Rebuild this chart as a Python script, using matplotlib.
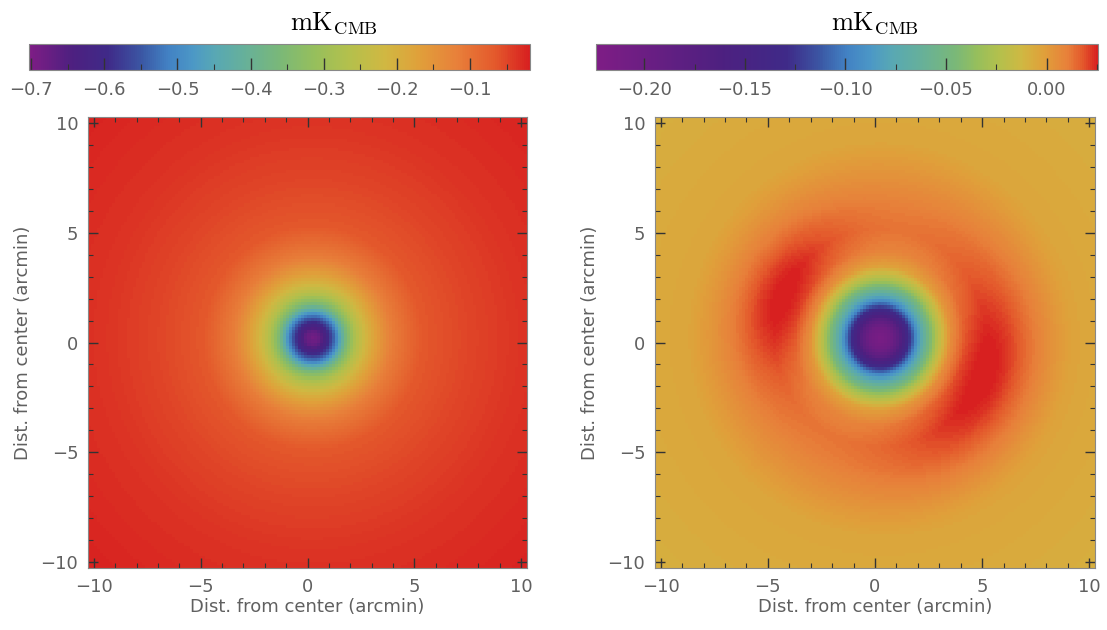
import numpy as np
import matplotlib
matplotlib.use("Agg")
import matplotlib.pyplot as plt
from matplotlib.colors import LinearSegmentedColormap, Normalize
from matplotlib.ticker import MultipleLocator, FormatStrFormatter

plt.rcParams['mathtext.fontset'] = 'cm'
plt.rcParams['font.family'] = ['DejaVu Sans']

# radial profile of the left map (arcmin, mK_CMB)
r_left = [0, 0.3, 0.62, 1.08, 1.55, 2.0, 2.5, 3.0, 3.7, 5.1, 7.3, 10.0, 14.5]
v_left = [-0.69, -0.67, -0.62, -0.51, -0.36, -0.27, -0.21, -0.165, -0.115, -0.066, -0.05, -0.035, -0.022]

# radial profile of the right map (symmetric part)
r_right = [0, 0.5, 0.86, 1.1, 1.4, 1.7, 2.2, 2.65, 3.3, 4.0, 5.0, 6.0, 7.5, 9.0, 14.5]
v_right = [-0.218, -0.205, -0.18, -0.155, -0.125, -0.094, -0.058, -0.03, -0.003, 0.007, 0.011,
           0.009, 0.003, -0.004, -0.008]

# the two red arcs of the right map (radius, angle in deg, widths)
lobe_r = [4.8, 5.1]
lobe_theta = [157, -20]
lobe_amp = [0.016, 0.016]
lobe_sig_r = [1.5, 1.7]
lobe_sig_t = [32, 42]

center = (0.25, 0.2)
vmin_left, vmax_left = -0.703, -0.018
vmin_right, vmax_right = -0.224, 0.0256
ticks_left = [-0.7, -0.6, -0.5, -0.4, -0.3, -0.2, -0.1]
ticks_right = [-0.20, -0.15, -0.10, -0.05, 0.00]

# colour table
base_pos = [0.0, 0.085, 0.157, 0.228, 0.278, 0.328, 0.37, 0.43, 0.5, 0.57, 0.64, 0.71, 0.78, 0.855, 0.93, 1.0]
base_col = ['#7e1d85', '#4d2080', '#3f2a88', '#3b5aa6', '#4282c4', '#4c98c6', '#58a8b4', '#66b09a',
            '#7ab878', '#96bf5c', '#b4c04c', '#d0b842', '#e0a03a', '#e8803a', '#e45a2c', '#d82020']
cmap_left = LinearSegmentedColormap.from_list('left', list(zip(base_pos, base_col)))
right_pos = np.interp(base_pos, [0, 0.085, 0.157, 0.278, 0.5, 0.71, 0.855, 1.0],
                      [0, 0.25, 0.38, 0.50, 0.716, 0.85, 0.94, 1.0])
cmap_right = LinearSegmentedColormap.from_list('right', list(zip(right_pos, base_col)))

# pixel grid
ext = 10.27
n = 146
xs = np.linspace(-ext, ext, n)
X, Y = np.meshgrid(xs, xs)
R = np.hypot(X - center[0], Y - center[1])
TH = np.degrees(np.arctan2(Y - center[1], X - center[0]))

img_left = np.interp(R, r_left, v_left)
img_right = np.interp(R, r_right, v_right)
for r0, t0, a, sr, st in zip(lobe_r, lobe_theta, lobe_amp, lobe_sig_r, lobe_sig_t):
    dt = (TH - t0 + 180) % 360 - 180
    img_right += a * np.exp(-0.5 * (((R - r0) / sr) ** 2 + (dt / st) ** 2))

W, H = 1107, 630
fig = plt.figure(figsize=(W / 100, H / 100), dpi=100)

txt_col = '#606060'

def fx(px):
    return px / W

def fy(py):
    return 1 - py / H

panels = [
    (img_left, cmap_left, vmin_left, vmax_left, ticks_left, 0.05, '%.1f', 88, 527, 29, 530, 334),
    (img_right, cmap_right, vmin_right, vmax_right, ticks_right, 0.025, '%.2f', 655, 1095, 596, 1098, 875),
]

for img, cm, lo, hi, ticks, minor, fmt, ax0, ax1, cb0, cb1, tx in panels:
    ax = fig.add_axes([fx(ax0), fy(568), fx(ax1 - ax0), (568 - 117) / H])
    im = ax.imshow(img, origin='lower', extent=[-ext, ext, -ext, ext], cmap=cm,
                   norm=Normalize(lo, hi), interpolation='nearest', aspect='auto')
    ax.set_xlim(-ext, ext)
    ax.set_ylim(-ext, ext)
    ax.xaxis.set_major_locator(MultipleLocator(5))
    ax.yaxis.set_major_locator(MultipleLocator(5))
    ax.xaxis.set_minor_locator(MultipleLocator(1))
    ax.yaxis.set_minor_locator(MultipleLocator(1))
    ax.tick_params(which='both', direction='in', top=True, right=True, color='#333333',
                   labelsize=13, labelcolor=txt_col, pad=7)
    ax.tick_params(which='major', length=7, width=1)
    ax.tick_params(which='minor', length=3.5, width=0.8)
    for s in ax.spines.values():
        s.set_color('#888888')
    ax.set_xlabel('Dist. from center (arcmin)', fontsize=13, color=txt_col, labelpad=2)
    ax.set_ylabel('Dist. from center (arcmin)', fontsize=13, color=txt_col, labelpad=6)

    cax = fig.add_axes([fx(cb0), fy(70), fx(cb1 - cb0), 26 / H])
    cb = fig.colorbar(im, cax=cax, orientation='horizontal')
    cb.outline.set_edgecolor('#888888')
    cb.set_ticks(ticks)
    cax.set_xlim(lo, hi)
    cax.xaxis.set_minor_locator(MultipleLocator(minor))
    cax.xaxis.set_major_formatter(FormatStrFormatter(fmt))
    cax.set_xticklabels([(fmt % t).replace('-', '\u2212') if abs(t) > 1e-9 else fmt % 0 for t in ticks])
    cax.tick_params(which='both', direction='in', color='#333333', labelsize=13,
                    labelcolor=txt_col, pad=8)
    cax.tick_params(which='major', length=9, width=1)
    cax.tick_params(which='minor', length=4, width=0.8)

    fig.text(fx(tx), fy(23), r'$\mathrm{mK_{CMB}}$', fontsize=19, ha='center', va='center')

fig.savefig('out.png', dpi=100)
